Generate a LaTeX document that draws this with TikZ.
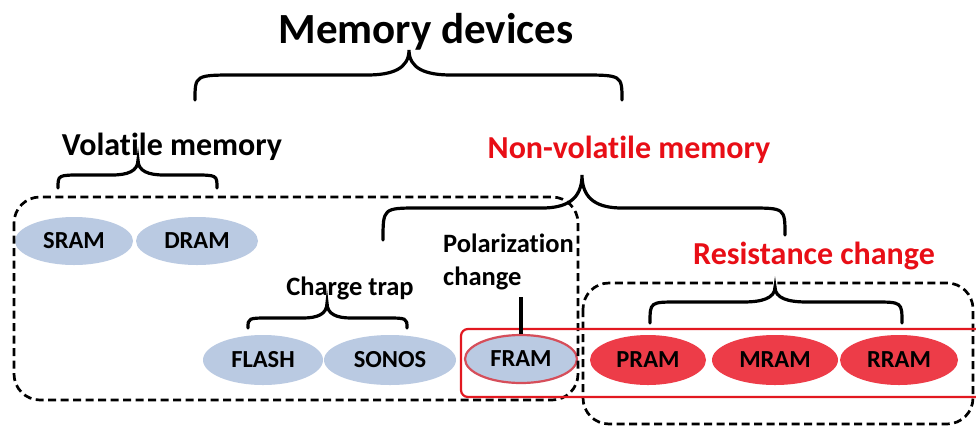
\documentclass[tikz,border=0pt]{standalone}
\usepackage{fontspec}
\setmainfont{Carlito}[Ligatures={NoCommon,NoContextual}, RawFeature={-liga;-clig;-dlig}]
\usetikzlibrary{shapes.geometric}

\definecolor{cellblue}{RGB}{186,202,226}
\definecolor{cellred}{RGB}{237,60,72}
\definecolor{labelred}{RGB}{232,14,22}
\definecolor{framedge}{RGB}{214,78,90}
\definecolor{boxred}{RGB}{226,24,32}

% keeps t and i as separate glyphs
\newcommand{\tbreak}{\kern0pt\relax}

% curly brace: left end (#1,#2), tip (#3,#4), right end (#5,#6),
% flat level #7, end-curve length #8, tip-curve length #9
\newcommand{\curlybrace}[9]{%
  \draw[bracestyle] (#1,#2) .. controls (#1,#7) .. (#1+#8,#7)
    -- (#3-#9,#7) .. controls (#3-0.4*#9,#7) and (#3,#7-0.25*#7+0.25*#4) .. (#3,#4)
    .. controls (#3,#7-0.25*#7+0.25*#4) and (#3+0.4*#9,#7) .. (#3+#9,#7)
    -- (#5-#8,#7) .. controls (#5,#7) .. (#5,#6);}

\tikzset{
  bracestyle/.style={line width=3.2pt, line cap=round, black},
  cell/.style={ellipse, inner sep=0pt, font=\fontsize{24.5}{28}\selectfont\bfseries},
  bluecell/.style={cell, fill=cellblue},
  redcell/.style={cell, fill=cellred},
  groupbox/.style={dashed, dash pattern=on 8pt off 4.5pt, line width=2.7pt, rounded corners=26pt},
  bigtitle/.style={font=\fontsize{43}{50}\selectfont\bfseries, anchor=base, inner sep=0pt},
  midtitle/.style={font=\fontsize{32}{38}\selectfont\bfseries, anchor=base, inner sep=0pt},
  smalltitle/.style={font=\fontsize{26.5}{32}\selectfont\bfseries, anchor=base, inner sep=0pt},
}

\begin{document}
\begin{tikzpicture}[x=1pt, y=-1pt]
\useasboundingbox[fill=white] (0,0) rectangle (976,426);

% titles
\node[bigtitle] (devices) at (426,43) {Memory devices};
\node[midtitle] (volatile) at (172,155) {Volat\tbreak ile memory};
\node[midtitle, text=labelred] (nonvolatile) at (629,158) {Non-volat\tbreak ile memory};
\node[smalltitle] (chargetrap) at (350,295) {Charge trap};
\node[smalltitle, anchor=base west] (polar) at (443,252) {Polarizat\tbreak ion};
\node[smalltitle, anchor=base west] (polarb) at (443,285) {change};
\node[midtitle, text=labelred] (resist) at (814,264) {Resistance change};

% memory cells
\node[bluecell, minimum width=118pt, minimum height=48pt] (sram) at (74,241) {SRAM};
\node[bluecell, minimum width=122pt, minimum height=48pt] (dram) at (197,241) {DRAM};
\node[bluecell, minimum width=120pt, minimum height=50pt] (flash) at (263,360) {FLASH};
\node[bluecell, minimum width=132pt, minimum height=50pt] (sonos) at (390,360) {SONOS};
\node[bluecell, draw=framedge, line width=2.2pt, minimum width=112pt, minimum height=48pt] (fram) at (521,359) {FRAM};
\node[redcell, minimum width=116pt, minimum height=50pt] (pram) at (648,360) {PRAM};
\node[redcell, minimum width=126pt, minimum height=50pt] (mram) at (775,360) {MRAM};
\node[redcell, minimum width=118pt, minimum height=50pt] (rram) at (899,360) {RRAM};

% grouping frames
\draw[groupbox] (14,197) rectangle (578,400);
\draw[groupbox] (583,283) rectangle (973,424);
\draw[boxred, line width=2.2pt, rounded corners=7pt] (461,329) rectangle (990,397);

% braces
\curlybrace{195}{100}{409}{50}{622}{100}{75}{42}{42}
\curlybrace{58}{188}{138}{160}{217}{188}{175}{24}{26}
\curlybrace{383}{240}{582}{175}{785}{235}{208}{36}{40}
\curlybrace{248}{328}{327}{303}{407}{328}{318}{22}{24}
\curlybrace{650}{323}{775}{287}{902}{323}{302}{28}{32}

% polarization link
\coordinate (polarfoot) at (fram.north |- 0,297);
\draw[bracestyle, line cap=butt] (fram.north) -- (polarfoot);
\end{tikzpicture}
\end{document}
